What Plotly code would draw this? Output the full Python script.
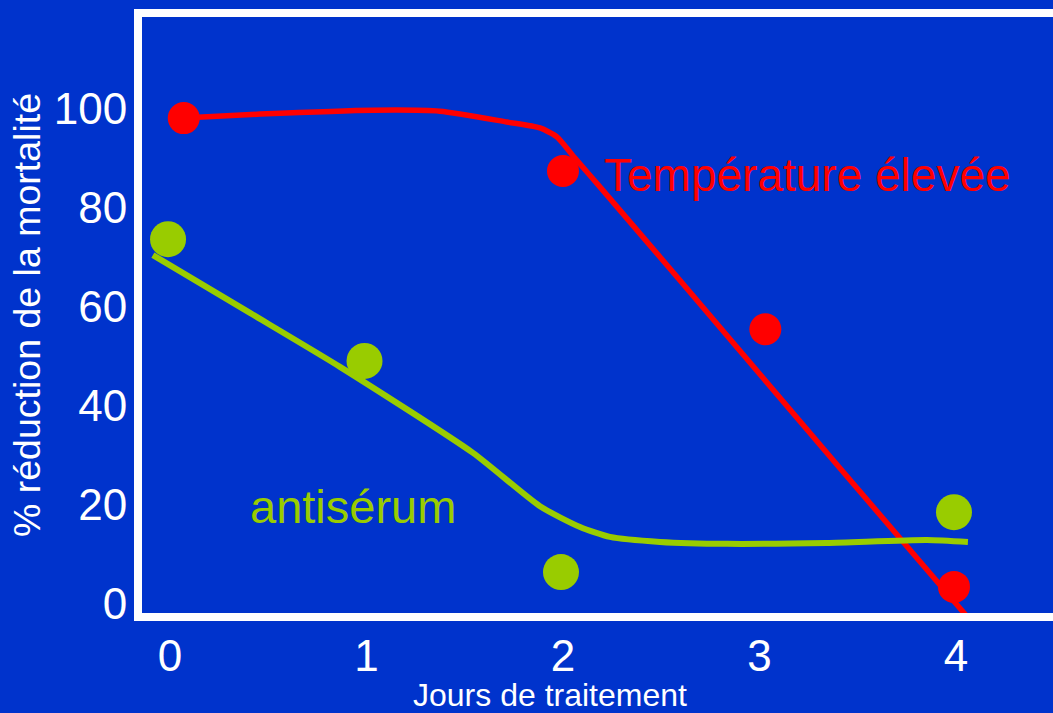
import plotly.graph_objects as go

# ---- data ----
red_days = [0.07, 2.0, 3.03, 3.99]
red_values = [98.1, 87.4, 55.4, 3.3]
green_days = [-0.01, 0.99, 1.99, 3.99]
green_values = [73.6, 49.0, 6.3, 18.4]

red_curve_x = [0.066, 0.458, 1.033, 1.374, 1.715, 1.883, 1.969, 2.061, 2.188, 2.595, 3.410, 4.061]
red_curve_y = [98.1, 98.9, 99.7, 99.5, 97.3, 96.1, 94.3, 90.0, 84.2, 65.3, 27.3, -2.9]
green_curve_x = [-0.087, 0.407, 0.865, 1.542, 1.883, 2.087, 2.239, 2.494, 2.835, 3.344, 3.852, 4.061]
green_curve_y = [70.4, 58.7, 47.8, 30.4, 19.6, 15.4, 13.4, 12.4, 12.0, 12.2, 12.8, 12.4]

x_ticks = [0, 1, 2, 3, 4]
y_ticks = [0, 20, 40, 60, 80, 100]

BG = "#0033CC"
RED = "#FF0000"
GREEN = "#99CC00"
FONT = "Liberation Sans, Arial, sans-serif"

fig = go.Figure()
fig.add_trace(go.Scatter(x=red_curve_x, y=red_curve_y, mode="lines",
                         line=dict(color=RED, width=5.5, shape="spline", smoothing=0.6),
                         hoverinfo="skip", showlegend=False))
fig.add_trace(go.Scatter(x=green_curve_x, y=green_curve_y, mode="lines",
                         line=dict(color=GREEN, width=6, shape="spline", smoothing=0.6),
                         hoverinfo="skip", showlegend=False))
fig.add_trace(go.Scatter(x=red_days, y=red_values, mode="markers",
                         marker=dict(color=RED, size=32, line=dict(width=0)),
                         name="Température élevée", showlegend=False))
fig.add_trace(go.Scatter(x=green_days, y=green_values, mode="markers",
                         marker=dict(color=GREEN, size=36, line=dict(width=0)),
                         name="antisérum", showlegend=False))

fig.add_annotation(x=3.247, y=86.6, text="Température élevée", showarrow=False,
                   font=dict(family=FONT, size=46, color=RED), xanchor="center", yanchor="middle")
fig.add_annotation(x=0.929, y=19.6, text="antisérum", showarrow=False,
                   font=dict(family=FONT, size=47, color=GREEN), xanchor="center", yanchor="middle")
# x-axis title (placed as annotation to match the reference position)
fig.add_annotation(x=(550 - 142) / (1053 - 142), y=(613 - 695) / (613 - 17), xref="paper", yref="paper",
                   text="Jours de traitement",
                   showarrow=False, font=dict(family=FONT, size=32, color="white"),
                   xanchor="center", yanchor="middle")

fig.update_layout(
    width=1053, height=713,
    margin=dict(l=142, r=0, t=17, b=100),
    paper_bgcolor=BG, plot_bgcolor=BG,
    font=dict(family=FONT, color="white"),
    showlegend=False,
)
fig.update_xaxes(range=[-0.1425, 4.494], tickvals=x_ticks, ticktext=[str(v) for v in x_ticks],
                 showgrid=False, zeroline=False, showline=True, linewidth=8, linecolor="white",
                 mirror=True, ticks="", tickfont=dict(family=FONT, size=44, color="white"),
                 ticklabelstandoff=-3)
fig.update_yaxes(range=[-1.98, 118.54], tickvals=y_ticks, ticktext=[str(v) for v in y_ticks],
                 showgrid=False, zeroline=False, showline=True, linewidth=8, linecolor="white",
                 mirror=False, ticks="", tickfont=dict(family=FONT, size=44, color="white"),
                 ticklabelstandoff=-2,
                 title=dict(text="% réduction de la mortalité", font=dict(family=FONT, size=37.5, color="white"),
                            standoff=5))

fig.write_html("out.html", config={"displayModeBar": False},
               post_script="document.body.style.margin='0';document.body.style.overflow='hidden';")
